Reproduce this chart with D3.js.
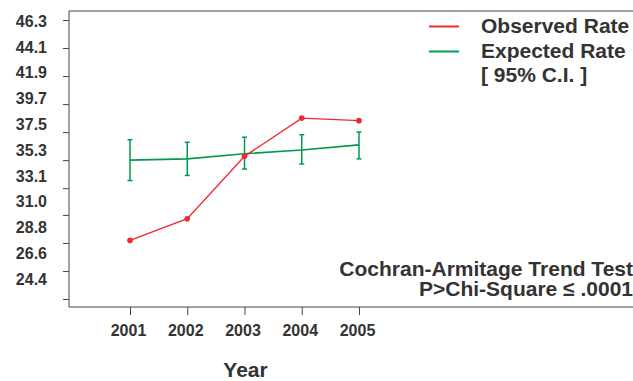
<!DOCTYPE html>
<html>
<head>
<meta charset="utf-8">
<script src="https://cdn.jsdelivr.net/npm/d3@7"></script>
<style>
  body { margin: 0; background: #fff; }
  svg text { font-family: "Liberation Sans", Arial, sans-serif; font-weight: bold; fill: #333; }
</style>
</head>
<body>
<div id="myDataVis"><svg></svg></div>
<script>
// data
const years = [2001, 2002, 2003, 2004, 2005];
const observed = [29.0, 30.7, 35.6, 38.6, 38.4];
const expected = [35.3, 35.4, 35.8, 36.1, 36.5];
const lowerCI = [33.7, 34.1, 34.6, 35.0, 35.4];
const upperCI = [36.9, 36.7, 37.1, 37.3, 37.5];
const yTicks = [24.4, 26.6, 28.8, 31.0, 33.1, 35.3, 37.5, 39.7, 41.9, 44.1, 46.3];

const red = '#ec2a2f';
const green = '#009a4e';

const svg = d3.select('#myDataVis').select('svg')
    .attr('width', 633)
    .attr('height', 381);

const frameLeft = 69, frameTop = 11, frameBottom = 307;

const xScale = d3.scaleLinear().domain([2001, 2005]).range([130, 359]);
const yScale = d3.scaleLinear().domain([24.4, 46.3]).range([299, 20]);
// the tick labels in the original sit on a slightly tighter spacing than the ticks
const labelScale = d3.scaleLinear().domain([24.4, 46.3]).range([279, 21]);

// frame
svg.append('path')
    .attr('d', `M633,${frameTop}H${frameLeft}V${frameBottom}H633`)
    .attr('fill', 'none')
    .attr('stroke', '#444')
    .attr('stroke-width', 1);

// y ticks
const yAxis = svg.append('g')
    .attr('transform', `translate(${frameLeft},0)`)
    .call(d3.axisLeft(yScale).tickValues(yTicks).tickSize(6).tickFormat(''));
yAxis.select('.domain').remove();
yAxis.selectAll('line').attr('stroke', '#444');

// y labels
const yLabels = svg.append('g')
    .attr('transform', `translate(${frameLeft},0)`)
    .call(d3.axisLeft(labelScale).tickValues(yTicks).tickSize(0).tickPadding(22).tickFormat(d3.format('.1f')));
yLabels.select('.domain').remove();
yLabels.attr('font-family', null).attr('font-size', null);
yLabels.selectAll('text').attr('font-size', 16);

// x axis
const xAxis = svg.append('g')
    .attr('transform', `translate(0,${frameBottom})`)
    .call(d3.axisBottom(xScale).tickValues(years).tickSize(8).tickPadding(10).tickFormat(d3.format('d')));
xAxis.select('.domain').remove();
xAxis.attr('font-family', null).attr('font-size', null);
xAxis.selectAll('line').attr('stroke', '#444');
xAxis.selectAll('text')
    .attr('font-size', 16)
    .attr('x', -2);

svg.append('text')
    .attr('x', 245.5)
    .attr('y', 377)
    .attr('text-anchor', 'middle')
    .attr('font-size', 21)
    .text('Year');

// expected rate with 95% CI
const ciData = years.map((yr, i) => ({year: yr, lo: lowerCI[i], hi: upperCI[i], mid: expected[i]}));

svg.append('path')
    .datum(ciData)
    .attr('fill', 'none')
    .attr('stroke', green)
    .attr('stroke-width', 1.6)
    .attr('d', d3.line().x(d => xScale(d.year)).y(d => yScale(d.mid)));

const bars = svg.selectAll('g.ci')
    .data(ciData)
    .enter().append('g')
    .attr('class', 'ci');

bars.append('line')
    .attr('x1', d => xScale(d.year))
    .attr('x2', d => xScale(d.year))
    .attr('y1', d => yScale(d.lo))
    .attr('y2', d => yScale(d.hi))
    .attr('stroke', green)
    .attr('stroke-width', 1.5);

['lo', 'hi'].forEach(k => {
    bars.append('line')
        .attr('x1', d => xScale(d.year) - 2.5)
        .attr('x2', d => xScale(d.year) + 2.5)
        .attr('y1', d => yScale(d[k]))
        .attr('y2', d => yScale(d[k]))
        .attr('stroke', green)
        .attr('stroke-width', 1.5);
});

// observed rate
const obsData = years.map((yr, i) => ({year: yr, value: observed[i]}));

svg.append('path')
    .datum(obsData)
    .attr('fill', 'none')
    .attr('stroke', red)
    .attr('stroke-width', 1.4)
    .attr('d', d3.line().x(d => xScale(d.year)).y(d => yScale(d.value)));

svg.selectAll('circle.obs')
    .data(obsData)
    .enter().append('circle')
    .attr('class', 'obs')
    .attr('cx', d => xScale(d.year))
    .attr('cy', d => yScale(d.value))
    .attr('r', 2.8)
    .attr('fill', red);

// legend
const legend = svg.append('g').attr('class', 'legend');
legend.append('line')
    .attr('x1', 429).attr('x2', 459)
    .attr('y1', 26.5).attr('y2', 26.5)
    .attr('stroke', red).attr('stroke-width', 2);
legend.append('line')
    .attr('x1', 429).attr('x2', 459)
    .attr('y1', 51.5).attr('y2', 51.5)
    .attr('stroke', green).attr('stroke-width', 2);
legend.selectAll('text')
    .data(['Observed Rate', 'Expected Rate', '[ 95% C.I. ]'])
    .enter().append('text')
    .attr('x', 481)
    .attr('y', (d, i) => 33 + i * 24.5)
    .attr('font-size', 21)
    .text(d => d);

// trend test note
svg.selectAll('text.note')
    .data(['Cochran-Armitage Trend Test', 'P>Chi-Square \u2264 .0001'])
    .enter().append('text')
    .attr('class', 'note')
    .attr('x', 633)
    .attr('y', (d, i) => 276 + i * 19.5)
    .attr('text-anchor', 'end')
    .attr('font-size', 21)
    .text(d => d);
</script>
</body>
</html>
